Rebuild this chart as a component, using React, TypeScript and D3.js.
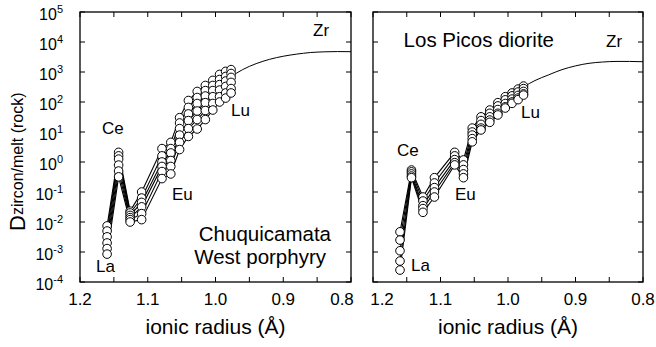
import React from "react";
import * as d3 from "d3";

// ---------- data ----------
const elements = ["La", "Ce", "Pr", "Nd", "Sm", "Eu", "Gd", "Tb", "Dy", "Ho", "Er", "Tm", "Yb", "Lu"];
const ionicRadius = [1.16, 1.143, 1.126, 1.109, 1.079, 1.066, 1.053, 1.04, 1.027, 1.015, 1.004, 0.994, 0.985, 0.977];

// Chuquicamata West porphyry — D zircon/melt per sample
const chuquiS1 = [7.4e-3, 2.1, 0.023, 0.1, 2.8, 4.5, 30, 112, 224, 355, 525, 830, 1050, 1200];
const chuquiS2 = [5.0e-3, 1.6, 0.02, 0.063, 1.6, 2.8, 20, 66, 141, 240, 355, 560, 710, 890];
const chuquiS3 = [3.2e-3, 1.25, 0.0166, 0.045, 1.0, 2.0, 13, 40, 89, 158, 240, 380, 500, 660];
const chuquiS4 = [2.0e-3, 0.79, 0.014, 0.032, 0.71, 1.12, 7.9, 24, 50, 95, 150, 250, 330, 450];
const chuquiS5 = [1.3e-3, 0.5, 0.012, 0.019, 0.48, 0.71, 4.5, 13, 26, 52, 89, 150, 200, 280];
const chuquiS6 = [8.5e-4, 0.32, 0.01, 0.012, 0.28, 0.4, 2.6, 7.1, 12.6, 26, 54, 100, 135, 200];
const chuquiSamples = [chuquiS1, chuquiS2, chuquiS3, chuquiS4, chuquiS5, chuquiS6];

// Los Picos diorite
const picosS1 = [4.7e-3, 0.54, 0.068, 0.3, 2.1, 1.17, 13.5, 32, 54, 95, 150, 200, 270, 340];
const picosS2 = [2.5e-3, 0.47, 0.05, 0.2, 1.6, 0.8, 10, 24, 42, 74, 118, 160, 215, 280];
const picosS3 = [1.1e-3, 0.4, 0.035, 0.14, 1.2, 0.56, 7.9, 18, 32, 56, 89, 125, 166, 225];
const picosS4 = [5.0e-4, 0.34, 0.028, 0.1, 0.95, 0.4, 6.0, 13.5, 25, 42, 69, 100, 135, 186];
const picosS5 = [2.5e-4, 0.3, 0.021, 0.068, 0.8, 0.3, 4.7, 11.7, 21, 37, 63, 90, 120, 170];
const picosSamples = [picosS1, picosS2, picosS3, picosS4, picosS5];

// fitted lattice-strain curves
const curveRadius = [0.977, 0.96, 0.94, 0.92, 0.9, 0.88, 0.86, 0.84, 0.82, 0.8];
const chuquiCurve = [700, 1200, 1900, 2650, 3350, 3950, 4450, 4700, 4800, 4750];
const picosCurve = [320, 520, 800, 1200, 1600, 1950, 2150, 2250, 2250, 2200];

const xTickLabels = [1.2, 1.1, 1.0, 0.9, 0.8];
const xMinorTicks = [1.2, 1.15, 1.1, 1.05, 1.0, 0.95, 0.9, 0.85, 0.8];
const yTickExponents = [-4, -3, -2, -1, 0, 1, 2, 3, 4, 5];

// ---------- layout ----------
const W = 656;
const H = 347;
const TOP = 12;
const BOTTOM = 282;
const FONT = "'Liberation Sans', Arial, Helvetica, sans-serif";
const TICK = 5;

const yScale = d3.scaleLog().domain([1e-4, 1e5]).range([BOTTOM, TOP]);

type Label = { text: string; x: number; y: number; anchor?: string; size?: number };

function Panel(props: {
  x0: number;
  x1: number;
  samples: number[][];
  curve: number[];
  labels: Label[];
  yLabels: boolean;
  tickShift: (t: number) => number;
}) {
  const { x0, x1, samples, curve, labels, yLabels, tickShift } = props;
  const x = d3.scaleLinear().domain([1.2, 0.8]).range([x0, x1]);
  const line = d3
    .line<[number, number]>()
    .x((d) => x(d[0]))
    .y((d) => yScale(d[1]));
  const curveLine = d3
    .line<[number, number]>()
    .x((d) => x(d[0]))
    .y((d) => yScale(d[1]))
    .curve(d3.curveMonotoneX);

  return (
    <g>
      <path
        d={curveLine(curveRadius.map((r, i) => [r, curve[i]] as [number, number])) || ""}
        fill="none"
        stroke="#000"
        strokeWidth={1}
      />
      {samples.map((s, si) => (
        <path
          key={"l" + si}
          d={line(ionicRadius.map((r, i) => [r, s[i]] as [number, number])) || ""}
          fill="none"
          stroke="#000"
          strokeWidth={1.1}
        />
      ))}
      {samples.map((s, si) =>
        s.map((v, i) => (
          <circle
            key={"c" + si + "-" + i}
            cx={x(ionicRadius[i])}
            cy={yScale(v)}
            r={4.3}
            fill="#fff"
            stroke="#000"
            strokeWidth={1}
          />
        ))
      )}
      <rect x={x0} y={TOP} width={x1 - x0} height={BOTTOM - TOP} fill="none" stroke="#000" strokeWidth={1.3} />
      {xMinorTicks.map((t) => (
        <g key={"xt" + t}>
          <line x1={x(t)} x2={x(t)} y1={BOTTOM} y2={BOTTOM - TICK} stroke="#000" strokeWidth={1} />
          <line x1={x(t)} x2={x(t)} y1={TOP} y2={TOP + TICK} stroke="#000" strokeWidth={1} />
        </g>
      ))}
      {xTickLabels.map((t) => (
        <text key={"xl" + t} x={x(t) + tickShift(t)} y={305} textAnchor="middle" fontSize={17} fontFamily={FONT}>
          {t.toFixed(1)}
        </text>
      ))}
      {yTickExponents.map((e) => (
        <g key={"yt" + e}>
          <line x1={x0} x2={x0 + TICK} y1={yScale(Math.pow(10, e))} y2={yScale(Math.pow(10, e))} stroke="#000" strokeWidth={1} />
          <line x1={x1} x2={x1 - TICK} y1={yScale(Math.pow(10, e))} y2={yScale(Math.pow(10, e))} stroke="#000" strokeWidth={1} />
          {yLabels && (
            <text x={x0 - 17} y={yScale(Math.pow(10, e)) + 8} textAnchor="end" fontSize={16} fontFamily={FONT}>
              10
              <tspan dy={-7} fontSize={11}>
                {String(e)}
              </tspan>
            </text>
          )}
        </g>
      ))}
      {labels.map((l, i) => (
        <text
          key={"a" + i}
          x={l.x}
          y={l.y}
          textAnchor={l.anchor || "start"}
          fontSize={l.size || 17}
          fontFamily={FONT}
        >
          {l.text}
        </text>
      ))}
      <text x={(x0 + x1) / 2} y={334} textAnchor="middle" fontSize={21} fontFamily={FONT}>
        ionic radius (Å)
      </text>
    </g>
  );
}

const leftLabels: Label[] = [
  { text: "Ce", x: 102, y: 134 },
  { text: "La", x: 96, y: 272 },
  { text: "Eu", x: 172, y: 200 },
  { text: "Lu", x: 231, y: 116 },
  { text: "Zr", x: 313, y: 36 },
  { text: "Chuquicamata", x: 331, y: 241, anchor: "end", size: 20.5 },
  { text: "West porphyry", x: 326, y: 264, anchor: "end", size: 20.5 },
];

const rightLabels: Label[] = [
  { text: "Ce", x: 397, y: 156 },
  { text: "La", x: 411, y: 271 },
  { text: "Eu", x: 455, y: 200 },
  { text: "Lu", x: 521, y: 118 },
  { text: "Zr", x: 606, y: 47 },
  { text: "Los Picos diorite", x: 554, y: 47, anchor: "end", size: 20.5 },
];

export default function App() {
  return (
    <svg
      width={W}
      height={H}
      viewBox={`0 0 ${W} ${H}`}
      style={{ position: "absolute", left: 0, top: 0, background: "#fff" }}
    >
      <rect x={0} y={0} width={W} height={H} fill="#fff" />
      <text transform="translate(25,231) rotate(-90)" fontFamily={FONT}>
        <tspan fontSize={22}>D</tspan>
        <tspan fontSize={16} dy={-2}>
          zircon/melt (rock)
        </tspan>
      </text>
      <Panel
        x0={80}
        x1={351}
        samples={chuquiSamples}
        curve={chuquiCurve}
        labels={leftLabels}
        yLabels={true}
        tickShift={(t) => (t === 0.8 ? -9 : 0)}
      />
      <Panel
        x0={373}
        x1={643}
        samples={picosSamples}
        curve={picosCurve}
        labels={rightLabels}
        yLabels={false}
        tickShift={(t) => (t === 1.2 ? 9 : 0)}
      />
    </svg>
  );
}
